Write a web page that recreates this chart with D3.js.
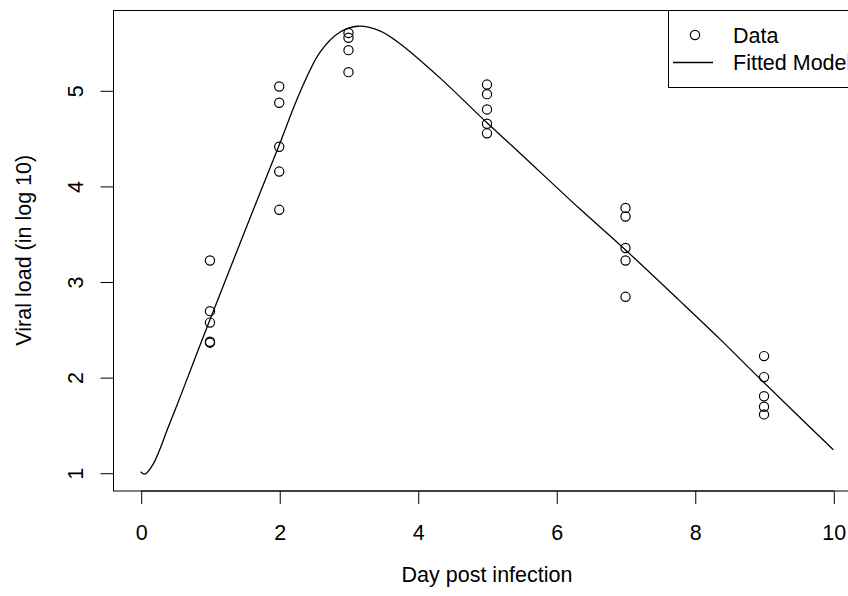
<!DOCTYPE html>
<html>
<head>
<meta charset="utf-8">
<script src="https://cdn.jsdelivr.net/npm/d3@7"></script>
<style>
    body { margin: 0; background: #fff; }
    svg { display: block; }
</style>
</head>
<body>
<div id="chart"></div>
<script>
// observed viral load, one entry per sample
var dataDay = [1, 1, 1, 1, 1,
    2, 2, 2, 2, 2,
    3, 3, 3, 3,
    5, 5, 5, 5, 5,
    7, 7, 7, 7, 7,
    9, 9, 9, 9, 9];
var dataLoad = [3.22, 2.69, 2.57, 2.37, 2.36,
    5.04, 4.87, 4.41, 4.15, 3.75,
    5.60, 5.55, 5.42, 5.19,
    5.06, 4.96, 4.80, 4.65, 4.55,
    3.77, 3.68, 3.35, 3.22, 2.84,
    2.22, 2.00, 1.80, 1.69, 1.61];

// fitted model
var curveDay = [0, 0.06, 0.18, 0.40, 0.59, 0.78, 1.00, 1.50, 1.99, 2.30, 2.59, 2.88,
    3.14, 3.46, 3.74, 4.32, 5.00, 5.45, 6.34, 7.00, 7.78, 8.36, 8.96, 10.0];
var curveLoad = [1.01, 0.985, 1.09, 1.48, 1.83, 2.19, 2.60, 3.52, 4.41, 4.98, 5.40, 5.61,
    5.67, 5.62, 5.49, 5.13, 4.66, 4.36, 3.76, 3.33, 2.80, 2.40, 1.97, 1.24];

var xTicks = [0, 2, 4, 6, 8, 10];
var yTicks = [1, 2, 3, 4, 5];
var legendLabels = ['Data', 'Fitted Model'];

var width = 848;
var height = 596;
var font = '"Liberation Sans", Arial, Helvetica, sans-serif';
var fontSize = '21.5px';

var x = d3.scaleLinear().domain([-0.4, 10.4]).range([113, 861]);
var y = d3.scaleLinear().domain([0.814, 5.84]).range([490.5, 10]);

var svg = d3.select('#chart')
    .append('svg')
    .attr('width', width)
    .attr('height', height)
    .style('font-family', font);

// plot box
svg.append('rect')
    .attr('x', x.range()[0] + 0.5)
    .attr('y', y.range()[1] + 0.5)
    .attr('width', x.range()[1] - x.range()[0])
    .attr('height', y.range()[0] - y.range()[1])
    .attr('fill', 'none')
    .attr('stroke', '#000')
    .attr('stroke-width', 1);

var xAxis = d3.axisBottom(x).tickValues(xTicks).tickSize(13).tickFormat(d3.format('d'));
var yAxis = d3.axisLeft(y).tickValues(yTicks).tickSize(13).tickFormat(d3.format('d'));

var gx = svg.append('g')
    .attr('transform', 'translate(0.5,' + (y.range()[0] + 0.5) + ')')
    .call(xAxis);
gx.select('.domain').attr('d', 'M' + x(0) + ',0H' + x(10));
gx.selectAll('text')
    .attr('dy', null)
    .attr('y', 48.5)
    .style('font-size', fontSize)
    .style('font-family', font)
    .attr('fill', '#000');

var gy = svg.append('g')
    .attr('transform', 'translate(' + (x.range()[0] + 0.5) + ',0.5)')
    .call(yAxis);
gy.select('.domain').attr('d', 'M0,' + y(1) + 'V' + y(5));
gy.selectAll('.tick text')
    .attr('x', null)
    .attr('dy', null)
    .attr('text-anchor', 'middle')
    .attr('transform', 'translate(-31,0) rotate(-90)')
    .style('font-size', fontSize)
    .style('font-family', font)
    .attr('fill', '#000');

svg.selectAll('.tick line').attr('stroke', '#000');
svg.selectAll('.domain').attr('stroke', '#000');

// axis titles
svg.append('text')
    .attr('x', (x.range()[0] + x.range()[1]) / 2)
    .attr('y', 581.5)
    .attr('text-anchor', 'middle')
    .style('font-size', fontSize)
    .text('Day post infection');

svg.append('text')
    .attr('transform', 'translate(31,' + (y.range()[0] + y.range()[1]) / 2 + ') rotate(-90)')
    .attr('text-anchor', 'middle')
    .style('font-size', fontSize)
    .text('Viral load (in log 10)');

// fitted curve
var fitLine = d3.line()
    .x(d => x(d[0]))
    .y(d => y(d[1]))
    .curve(d3.curveCatmullRom.alpha(0.5));

svg.append('path')
    .datum(d3.zip(curveDay, curveLoad))
    .attr('fill', 'none')
    .attr('stroke', '#000')
    .attr('stroke-width', 1.3)
    .attr('d', fitLine);

// data points
svg.append('g')
    .selectAll('circle')
    .data(d3.zip(dataDay, dataLoad))
    .join('circle')
    .attr('cx', d => x(d[0]))
    .attr('cy', d => y(d[1]))
    .attr('r', 4.6)
    .attr('fill', 'none')
    .attr('stroke', '#000')
    .attr('stroke-width', 1.2);

// legend, anchored top right of the plot box
var legend = svg.append('g');
legend.append('rect')
    .attr('x', 668.5)
    .attr('y', y.range()[1] + 0.5)
    .attr('width', x.range()[1] - 668)
    .attr('height', 77)
    .attr('fill', '#fff')
    .attr('stroke', '#000');

legend.append('circle')
    .attr('cx', 695)
    .attr('cy', 35)
    .attr('r', 4.6)
    .attr('fill', 'none')
    .attr('stroke', '#000')
    .attr('stroke-width', 1.2);

legend.append('line')
    .attr('x1', 673)
    .attr('x2', 713)
    .attr('y1', 62.5)
    .attr('y2', 62.5)
    .attr('stroke', '#000')
    .attr('stroke-width', 1.3);

legend.selectAll('.label')
    .data(legendLabels)
    .join('text')
    .attr('class', 'label')
    .attr('x', 733)
    .attr('y', (d, i) => 42.5 + i * 27)
    .style('font-size', fontSize)
    .text(d => d);
</script>
</body>
</html>
